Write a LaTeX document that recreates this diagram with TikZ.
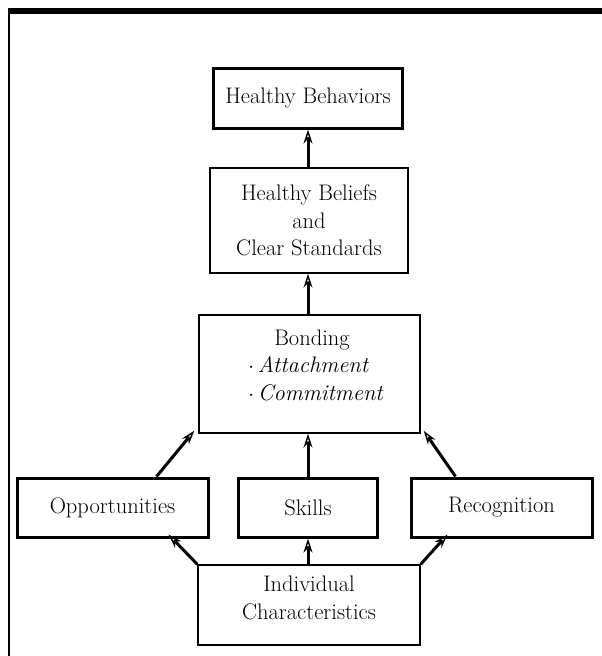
\documentclass[tikz,border=0pt]{standalone}
\usetikzlibrary{arrows.meta}
\begin{document}
\begin{tikzpicture}[x=1pt,y=-1pt,
  thinbox/.style={draw, line width=1.4pt, inner sep=0pt},
  thickbox/.style={draw, line width=3pt, inner sep=0pt},
  lbl/.style={font=\fontsize{22.5}{27.5}\selectfont, align=center, inner sep=0pt},
  arr/.style={line width=3pt, -{Stealth[length=14pt,width=9pt,open,line width=1.4pt]}}
]
\useasboundingbox (0,0) rectangle (602,656);
% frame
\draw[line width=6pt] (9,10.5) -- (602,10.5);
\draw[line width=1.5pt] (9,8) -- (9,656);
% boxes
\node[thickbox, lbl, minimum width=189pt, minimum height=60pt] (hb) at (308,98) {Healthy Behaviors};
\node[thinbox, lbl, minimum width=198pt, minimum height=105pt] (bel) at (309,220.5) {Healthy Beliefs\\and\\Clear Standards};
\node[thinbox, minimum width=221pt, minimum height=118pt] (bond) at (309.5,374) {};
\node[lbl] (bondtext) at (316,367) {\begin{tabular}{@{}l@{}}\multicolumn{1}{@{}c@{}}{Bonding\hspace*{8pt}}\\ $\cdot$\,\textit{Attachment}\\ $\cdot$\,\textit{Commitment}\end{tabular}};
\node[thickbox, lbl, minimum width=191pt, minimum height=59pt] (opp) at (112.5,507.5) {Opportunities};
\node[thickbox, lbl, minimum width=139pt, minimum height=59pt] (sk) at (308,507.5) {Skills};
\node[thickbox, lbl, minimum width=181pt, minimum height=59pt] (rec) at (501.5,507.5) {Recognition};
\node[thinbox, minimum width=222pt, minimum height=80pt] (ind) at (309,605) {};
\node[lbl] (indtext) at (309,598) {Individual\\Characteristics};
% arrows
\draw[arr] (hb.south |- bel.north) -- (hb.south);
\draw[arr] (hb.south |- bond.north) -- (hb.south |- bel.south);
\draw[arr] (sk.north) -- (sk.north |- bond.south);
\draw[arr] (sk.north |- ind.north) -- (sk.south);
\draw[arr] ([xshift=44pt]opp.north) -- ([shift={(-4pt,3pt)}]bond.south west);
\draw[arr] ([xshift=-46pt]rec.north) -- ([shift={(3pt,3pt)}]bond.south east);
\draw[arr] (ind.north west) -- ([shift={(56pt,4pt)}]opp.south);
\draw[arr] (ind.north east) -- ([shift={(-54pt,4pt)}]rec.south);
\end{tikzpicture}
\end{document}
